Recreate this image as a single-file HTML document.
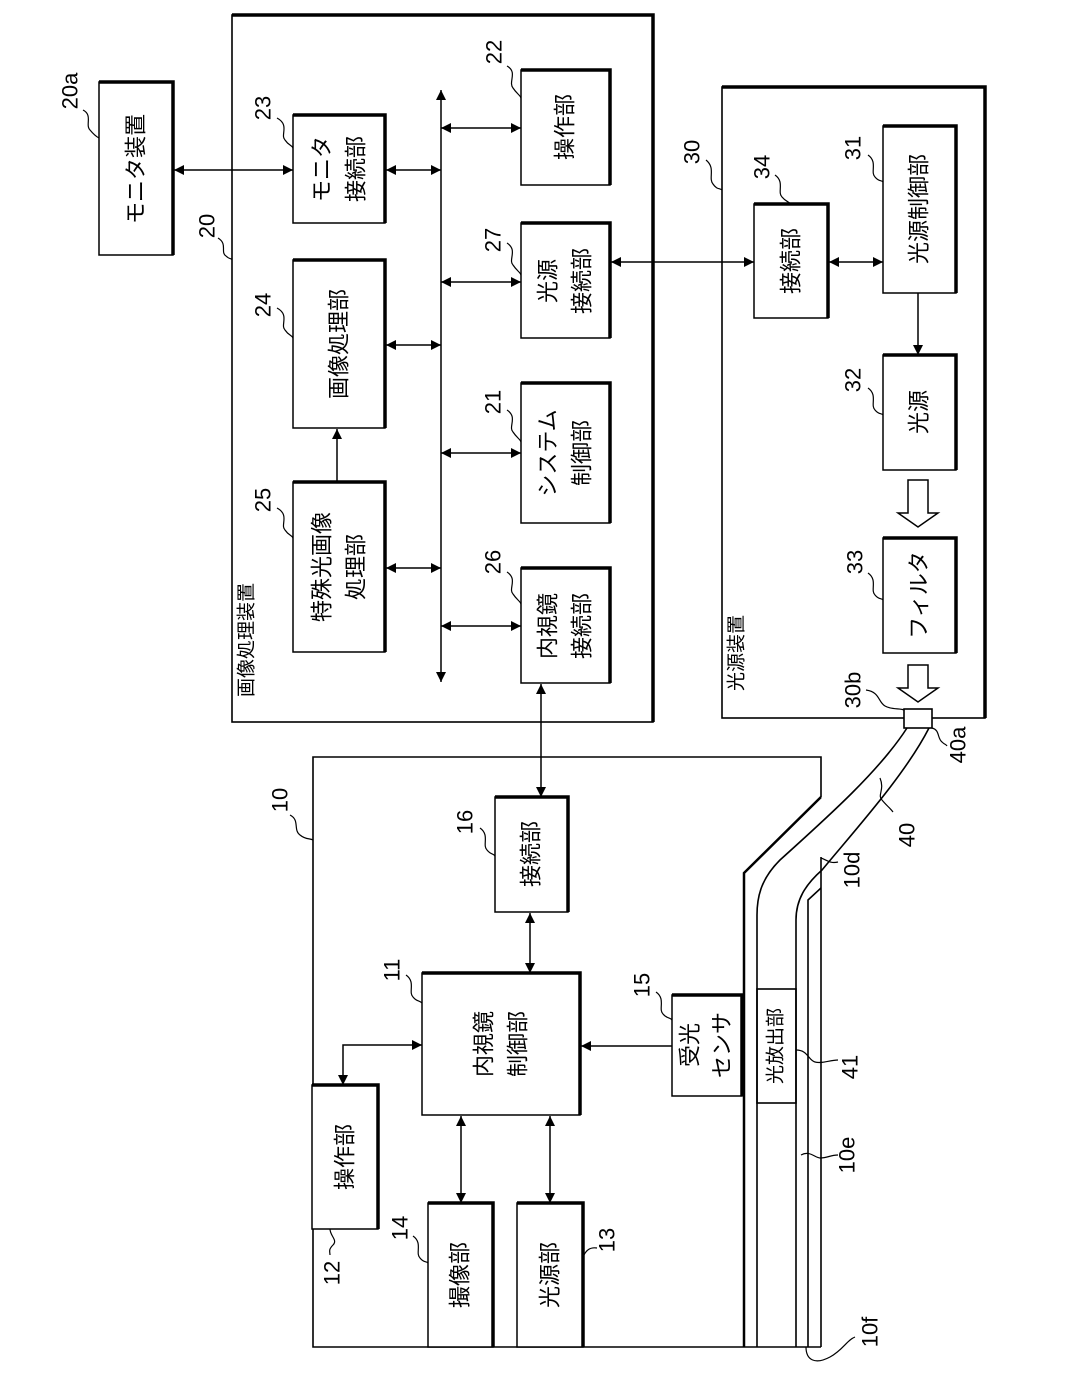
<!DOCTYPE html>
<html><head><meta charset="utf-8"><style>
html,body{margin:0;padding:0;background:#fff}
svg{display:block}
text{font-family:"Liberation Sans","Noto Sans CJK JP",sans-serif;fill:#000}
</style></head><body>
<svg width="1087" height="1386" viewBox="0 0 1087 1386" xmlns="http://www.w3.org/2000/svg">
<defs>
<marker id="a" viewBox="0 0 10 10" refX="10" refY="5" markerWidth="10" markerHeight="10" markerUnits="userSpaceOnUse" orient="auto-start-reverse"><path d="M0,0 L10,5 L0,10 z" fill="#000"/></marker>
</defs>
<g fill="none" stroke="#000" stroke-width="1.6">
<rect x="232" y="15" width="421" height="707"/>
<path d="M232,15 H653 V722" stroke-width="3.5"/>
<rect x="722" y="87" width="263" height="631"/>
<path d="M722,87 H985 V718" stroke-width="3.5"/>
<path d="M821,797 V757 H313 V1347 H821"/>
<path d="M821,797 L744,873 V1347" stroke-width="2.5"/>
<path d="M907,728 C880,770 830,815 780,860 C762,878 757,895 757,915 V1347"/>
<path d="M929,728 C905,775 855,830 822,870 C805,885 796,900 796,920 V1347"/>
<path d="M821,857 V1347"/>
<path d="M821,888 L808,900 V1347"/>
<rect x="904" y="709" width="28" height="19" fill="#fff"/>
<rect x="757" y="989" width="39" height="114"/>
</g>
<g fill="#fff" stroke="#000" stroke-width="1.5">
<rect x="99" y="82" width="74" height="173"/>
<rect x="293" y="115" width="92" height="108"/>
<rect x="293" y="260" width="92" height="168"/>
<rect x="293" y="482" width="92" height="170"/>
<rect x="521" y="70" width="89" height="115"/>
<rect x="521" y="223" width="89" height="115"/>
<rect x="521" y="383" width="89" height="140"/>
<rect x="521" y="568" width="89" height="115"/>
<rect x="754" y="204" width="74" height="114"/>
<rect x="883" y="126" width="73" height="167"/>
<rect x="883" y="355" width="73" height="115"/>
<rect x="883" y="538" width="73" height="115"/>
<rect x="495" y="797" width="73" height="115"/>
<rect x="422" y="973" width="158" height="142"/>
<rect x="672" y="995" width="70" height="101"/>
<rect x="312" y="1085" width="66" height="144"/>
<rect x="428" y="1203" width="65" height="144"/>
<rect x="517" y="1203" width="66" height="144"/>
</g>
<g fill="none" stroke="#000" stroke-width="3.5">
<path d="M99,82 H173 V255"/>
<path d="M293,115 H385 V223"/>
<path d="M293,260 H385 V428"/>
<path d="M293,482 H385 V652"/>
<path d="M521,70 H610 V185"/>
<path d="M521,223 H610 V338"/>
<path d="M521,383 H610 V523"/>
<path d="M521,568 H610 V683"/>
<path d="M754,204 H828 V318"/>
<path d="M883,126 H956 V293"/>
<path d="M883,355 H956 V470"/>
<path d="M883,538 H956 V653"/>
<path d="M495,797 H568 V912"/>
<path d="M422,973 H580 V1115"/>
<path d="M672,995 H742 V1096"/>
<path d="M312,1085 H378 V1229"/>
<path d="M428,1203 H493 V1347"/>
<path d="M517,1203 H583 V1347"/>
</g>
<g fill="none" stroke="#000" stroke-width="1.5">
<line x1="441" y1="90" x2="441" y2="682" marker-start="url(#a)" marker-end="url(#a)"/>
<line x1="174" y1="170" x2="293" y2="170" marker-start="url(#a)" marker-end="url(#a)"/>
<line x1="386" y1="170" x2="441" y2="170" marker-start="url(#a)" marker-end="url(#a)"/>
<line x1="386" y1="345" x2="441" y2="345" marker-start="url(#a)" marker-end="url(#a)"/>
<line x1="386" y1="568" x2="441" y2="568" marker-start="url(#a)" marker-end="url(#a)"/>
<line x1="337" y1="482" x2="337" y2="429" marker-end="url(#a)"/>
<line x1="441" y1="128" x2="521" y2="128" marker-start="url(#a)" marker-end="url(#a)"/>
<line x1="441" y1="282" x2="521" y2="282" marker-start="url(#a)" marker-end="url(#a)"/>
<line x1="441" y1="453" x2="521" y2="453" marker-start="url(#a)" marker-end="url(#a)"/>
<line x1="441" y1="626" x2="521" y2="626" marker-start="url(#a)" marker-end="url(#a)"/>
<line x1="611" y1="262" x2="754" y2="262" marker-start="url(#a)" marker-end="url(#a)"/>
<line x1="829" y1="262" x2="883" y2="262" marker-start="url(#a)" marker-end="url(#a)"/>
<line x1="918" y1="293" x2="918" y2="355" marker-end="url(#a)"/>
<line x1="541" y1="684" x2="541" y2="797" marker-start="url(#a)" marker-end="url(#a)"/>
<line x1="530" y1="913" x2="530" y2="973" marker-start="url(#a)" marker-end="url(#a)"/>
<line x1="672" y1="1046" x2="581" y2="1046" marker-end="url(#a)"/>
<path d="M422,1045 H343 V1085" marker-start="url(#a)" marker-end="url(#a)"/>
<line x1="461" y1="1116" x2="461" y2="1203" marker-start="url(#a)" marker-end="url(#a)"/>
<line x1="550" y1="1116" x2="550" y2="1203" marker-start="url(#a)" marker-end="url(#a)"/>
</g>
<g fill="#fff" stroke="#000" stroke-width="1.5">
<path d="M908,480 H928 V513 H938 L918,527 L898,513 H908 Z"/>
<path d="M908,665 H928 V688 H938 L918,702 L898,688 H908 Z"/>
</g>
<g fill="none" stroke="#000" stroke-width="1.2">
<path d="M83,110 C93,115 85,125 90,130 C95,136 97,137 99,138"/>
<path d="M277,118 C290,125 280,135 285,140 C289,146 292,145 293,148"/>
<path d="M507,66 C518,72 508,82 513,88 C517,94 520,95 521,98"/>
<path d="M277,308 C290,315 280,325 285,330 C289,336 292,335 293,338"/>
<path d="M507,243 C518,250 508,260 513,265 C517,271 520,272 521,275"/>
<path d="M507,410 C518,417 508,427 513,432 C517,438 520,439 521,442"/>
<path d="M277,508 C290,515 280,525 285,530 C289,536 292,535 293,538"/>
<path d="M507,572 C518,579 508,589 513,594 C517,600 520,601 521,604"/>
<path d="M218,238 C228,244 220,252 226,256 C230,260 232,258 232,260"/>
<path d="M706,160 C716,168 708,178 713,184 C717,190 720,188 722,190"/>
<path d="M775,175 C785,182 777,192 782,197 C786,202 790,202 790,204"/>
<path d="M868,155 C878,162 870,172 875,177 C879,182 882,180 883,182"/>
<path d="M868,388 C878,395 870,405 875,410 C879,415 882,413 883,415"/>
<path d="M868,573 C878,580 870,590 875,595 C879,600 882,598 883,600"/>
<path d="M866,690 C880,692 878,702 885,706 C892,710 900,708 904,710"/>
<path d="M932,728 C940,730 937,738 942,742 C945,745 946,744 947,746"/>
<path d="M880,778 C885,790 877,795 882,800 C886,805 890,808 893,812"/>
<path d="M821,858 C827,860 830,864 838,862"/>
<path d="M796,1050 C808,1050 808,1060 815,1062 C822,1064 830,1060 838,1060"/>
<path d="M801,1155 C810,1150 815,1158 820,1158 C828,1158 830,1155 838,1155"/>
<path d="M806,1347 C806,1360 815,1365 830,1357 C843,1350 847,1340 855,1337"/>
<path d="M290,815 C300,820 293,830 300,835 C306,840 310,838 313,840"/>
<path d="M480,828 C490,835 482,845 487,850 C491,855 493,853 495,856"/>
<path d="M406,975 C416,982 408,992 413,997 C417,1002 419,1000 422,1003"/>
<path d="M656,992 C666,999 658,1009 663,1014 C667,1019 670,1017 672,1020"/>
<path d="M330,1229 C330,1236 338,1240 333,1245 C328,1250 330,1252 330,1255"/>
<path d="M413,1236 C423,1243 415,1253 420,1258 C424,1263 426,1261 428,1263"/>
<path d="M583,1257 C586,1250 590,1247 597,1248"/>
</g>
<g font-size="22" text-anchor="middle" dominant-baseline="central">
<text transform="translate(136,169) rotate(-90)">モニタ装置</text>
<text transform="translate(322,169) rotate(-90)">モニタ</text>
<text transform="translate(356,169) rotate(-90)">接続部</text>
<text transform="translate(339,344) rotate(-90)">画像処理部</text>
<text transform="translate(322,567) rotate(-90)">特殊光画像</text>
<text transform="translate(356,567) rotate(-90)">処理部</text>
<text transform="translate(565,127) rotate(-90)">操作部</text>
<text transform="translate(548,281) rotate(-90)">光源</text>
<text transform="translate(582,281) rotate(-90)">接続部</text>
<text transform="translate(548,453) rotate(-90)">システム</text>
<text transform="translate(582,453) rotate(-90)">制御部</text>
<text transform="translate(548,626) rotate(-90)">内視鏡</text>
<text transform="translate(582,626) rotate(-90)">接続部</text>
<text transform="translate(791,261) rotate(-90)">接続部</text>
<text transform="translate(919,209) rotate(-90)">光源制御部</text>
<text transform="translate(919,412) rotate(-90)">光源</text>
<text transform="translate(919,595) rotate(-90)">フィルタ</text>
<text transform="translate(531,854) rotate(-90)">接続部</text>
<text transform="translate(484,1044) rotate(-90)">内視鏡</text>
<text transform="translate(518,1044) rotate(-90)">制御部</text>
<text transform="translate(690,1045) rotate(-90)">受光</text>
<text transform="translate(722,1045) rotate(-90)">センサ</text>
<text transform="translate(345,1157) rotate(-90)">操作部</text>
<text transform="translate(460,1275) rotate(-90)">撮像部</text>
<text transform="translate(550,1275) rotate(-90)">光源部</text>
<text font-size="19" transform="translate(776,1046) rotate(-90)">光放出部</text>
<text font-size="19" transform="translate(247,640) rotate(-90)">画像処理装置</text>
<text font-size="19" transform="translate(737,653) rotate(-90)">光源装置</text>
</g>
<g font-size="22" text-anchor="middle" dominant-baseline="central">
<text transform="translate(70,91) rotate(-90)">20a</text>
<text transform="translate(263,108) rotate(-90)">23</text>
<text transform="translate(494,52) rotate(-90)">22</text>
<text transform="translate(263,305) rotate(-90)">24</text>
<text transform="translate(493,240) rotate(-90)">27</text>
<text transform="translate(493,402) rotate(-90)">21</text>
<text transform="translate(263,500) rotate(-90)">25</text>
<text transform="translate(493,562) rotate(-90)">26</text>
<text transform="translate(207,226) rotate(-90)">20</text>
<text transform="translate(692,152) rotate(-90)">30</text>
<text transform="translate(762,167) rotate(-90)">34</text>
<text transform="translate(853,148) rotate(-90)">31</text>
<text transform="translate(853,380) rotate(-90)">32</text>
<text transform="translate(855,562) rotate(-90)">33</text>
<text transform="translate(853,690) rotate(-90)">30b</text>
<text transform="translate(958,745) rotate(-90)">40a</text>
<text transform="translate(907,835) rotate(-90)">40</text>
<text transform="translate(852,870) rotate(-90)">10d</text>
<text transform="translate(850,1067) rotate(-90)">41</text>
<text transform="translate(847,1155) rotate(-90)">10e</text>
<text transform="translate(870,1332) rotate(-90)">10f</text>
<text transform="translate(280,800) rotate(-90)">10</text>
<text transform="translate(465,822) rotate(-90)">16</text>
<text transform="translate(392,970) rotate(-90)">11</text>
<text transform="translate(642,985) rotate(-90)">15</text>
<text transform="translate(332,1273) rotate(-90)">12</text>
<text transform="translate(400,1228) rotate(-90)">14</text>
<text transform="translate(607,1240) rotate(-90)">13</text>
</g>
</svg>
</body></html>
